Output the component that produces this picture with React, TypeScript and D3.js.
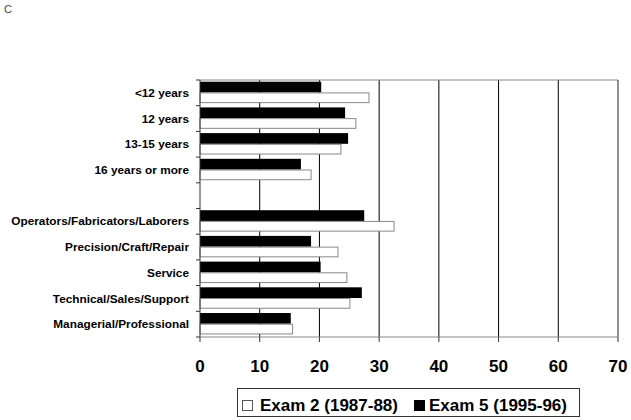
import * as d3 from "d3";

// rows of the chart, top to bottom (empty string = spacer row)
const categories = [
  "<12 years",
  "12 years",
  "13-15 years",
  "16 years or more",
  "",
  "Operators/Fabricators/Laborers",
  "Precision/Craft/Repair",
  "Service",
  "Technical/Sales/Support",
  "Managerial/Professional",
];
const exam2 = [28.3, 26.1, 23.6, 18.6, null, 32.5, 23.1, 24.6, 25.1, 15.5];
const exam5 = [20.3, 24.3, 24.8, 16.9, null, 27.5, 18.6, 20.2, 27.1, 15.2];
const xTicks = [0, 10, 20, 30, 40, 50, 60, 70];
const seriesNames = ["Exam 2 (1987-88)", "Exam 5 (1995-96)"];

const W = 631;
const H = 420;
const FONT = "'Liberation Sans', Arial, sans-serif";

export default function App() {
  const x = d3.scaleLinear().domain([0, 70]).range([200, 618]);
  const y = d3
    .scaleBand<number>()
    .domain(d3.range(categories.length))
    .range([80, 337])
    .padding(0);
  const inner = d3
    .scaleBand<string>()
    .domain(["e5", "e2"])
    .range([0, y.bandwidth()])
    .paddingInner(0)
    .paddingOuter(0.2)
    .align(0.4);

  const bottom = 337;
  const top = 80;
  const rowEdges = d3.range(categories.length + 1).map((i) => top + i * y.step());

  return (
    <svg
      width={W}
      height={H}
      style={{ position: "absolute", left: 0, top: 0, background: "#fff" }}
      fontFamily={FONT}
    >
      <text x={4} y={13} fontSize={11} fill="#444">
        C
      </text>

      {/* vertical gridlines */}
      {xTicks.slice(1, -1).map((t) => (
        <line key={t} x1={x(t)} x2={x(t)} y1={top} y2={bottom} stroke="#000" strokeWidth={1} />
      ))}
      {/* plot border */}
      <line x1={x(0)} x2={x(70)} y1={top} y2={top} stroke="#888" />
      <line x1={x(70)} x2={x(70)} y1={top} y2={bottom} stroke="#222" />

      {/* bars */}
      {categories.map((c, i) => {
        const y0 = y(i)!;
        return (
          <g key={i}>
            {exam5[i] != null && (
              <rect
                x={x(0)}
                y={y0 + inner("e5")!}
                width={x(exam5[i] as number) - x(0)}
                height={inner.bandwidth()}
                fill="#000"
              />
            )}
            {exam2[i] != null && (
              <rect
                x={x(0)}
                y={y0 + inner("e2")! + 0.5}
                width={x(exam2[i] as number) - x(0)}
                height={inner.bandwidth() - 1}
                fill="#fff"
                stroke="#888"
                strokeWidth={1}
              />
            )}
          </g>
        );
      })}

      {/* y axis */}
      <line x1={x(0)} x2={x(0)} y1={top} y2={bottom} stroke="#333" />
      {rowEdges.map((yy, i) => (
        <line key={i} x1={x(0) - 4} x2={x(0)} y1={yy} y2={yy} stroke="#333" />
      ))}
      {categories.map((c, i) => (
        <text
          key={i}
          x={189}
          y={y(i)! + y.bandwidth() / 2}
          dy="0.35em"
          textAnchor="end"
          fontSize={11.8}
          fontWeight="bold"
        >
          {c}
        </text>
      ))}

      {/* x axis */}
      <line x1={x(0)} x2={x(70)} y1={bottom} y2={bottom} stroke="#888" />
      {xTicks.map((t) => (
        <g key={t}>
          <line x1={x(t)} x2={x(t)} y1={bottom} y2={bottom + 5} stroke="#333" />
          <text x={x(t)} y={372} textAnchor="middle" fontSize={17} fontWeight="bold">
            {t}
          </text>
        </g>
      ))}

      {/* legend */}
      <rect x={237.5} y={388.5} width={342} height={28} fill="#fff" stroke="#333" />
      <rect x={242.5} y={400.5} width={10} height={10} fill="#fff" stroke="#555" />
      <text x={260} y={411} fontSize={17} fontWeight="bold">
        {seriesNames[0]}
      </text>
      <rect x={414} y={400} width={11} height={11} fill="#000" />
      <text x={429} y={411} fontSize={17} fontWeight="bold">
        {seriesNames[1]}
      </text>
    </svg>
  );
}
